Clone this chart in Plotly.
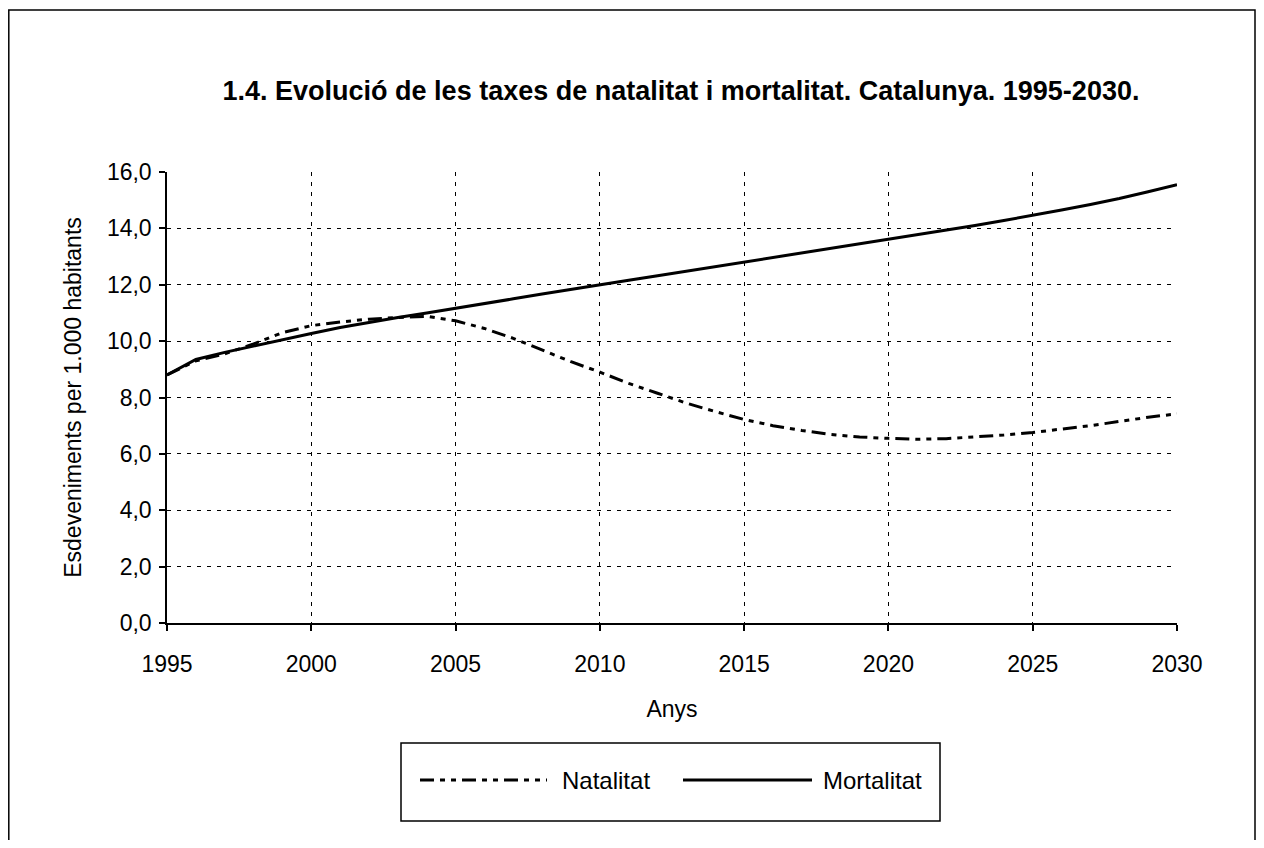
import plotly.graph_objects as go

years = list(range(1995, 2031))
natalitat = [8.8, 9.3, 9.55, 9.9, 10.3, 10.55, 10.68, 10.78, 10.84, 10.88,
             10.72, 10.45, 10.1, 9.68, 9.27, 8.9, 8.5, 8.15, 7.8, 7.5,
             7.22, 7.0, 6.83, 6.69, 6.6, 6.55, 6.52, 6.54, 6.6, 6.67,
             6.76, 6.87, 7.0, 7.15, 7.3, 7.42]
mortalitat = [8.8, 9.35, 9.6, 9.83, 10.05, 10.27, 10.48, 10.67, 10.84, 11.0,
              11.16, 11.33, 11.5, 11.67, 11.84, 12.0, 12.16, 12.32, 12.48, 12.64,
              12.8, 12.96, 13.12, 13.28, 13.44, 13.6, 13.76, 13.93, 14.1, 14.28,
              14.46, 14.65, 14.85, 15.06, 15.3, 15.55]
y_ticks = [0, 2, 4, 6, 8, 10, 12, 14, 16]
y_ticklabels = ["0,0", "2,0", "4,0", "6,0", "8,0", "10,0", "12,0", "14,0", "16,0"]
x_ticks = [1995, 2000, 2005, 2010, 2015, 2020, 2025, 2030]

title_text = "1.4. Evolució de les taxes de natalitat i mortalitat. Catalunya. 1995-2030."
nat_name = "Natalitat"
mor_name = "Mortalitat"

FONT = "Liberation Sans, Arial, Helvetica, sans-serif"
NAT_DASH = "14px,6px,5px,6px,5px,6px"
GRID_DASH = "4px,6px"

fig = go.Figure()
fig.add_trace(go.Scatter(x=years, y=natalitat, mode="lines", name=nat_name,
                         line=dict(color="black", width=3, dash=NAT_DASH),
                         showlegend=False))
fig.add_trace(go.Scatter(x=years, y=mortalitat, mode="lines", name=mor_name,
                         line=dict(color="black", width=3),
                         showlegend=False))

# figure is placed at page offset (8, 8) by the default body margin
OFF = 8
W, H = 1248, 832
L, R, T, B = 159, 79, 164, 217
pw, ph = W - L - R, H - T - B


def px(x):
    # page x -> paper x
    return (x - OFF - L) / pw


def py(y):
    # page y -> paper y
    return (H - B - (y - OFF)) / ph


shapes = [
    # outer frame
    dict(type="rect", xref="paper", yref="paper", x0=px(8.8), x1=px(1255),
         y0=py(880), y1=py(10), line=dict(color="black", width=1.5)),
    # legend box
    dict(type="rect", xref="paper", yref="paper", x0=px(401), x1=px(940),
         y0=py(821), y1=py(743), line=dict(color="black", width=1.5),
         fillcolor="white"),
    # legend samples
    dict(type="line", xref="paper", yref="paper", x0=px(420), x1=px(547),
         y0=py(780), y1=py(780), line=dict(color="black", width=3, dash=NAT_DASH)),
    dict(type="line", xref="paper", yref="paper", x0=px(683), x1=px(812),
         y0=py(780), y1=py(780), line=dict(color="black", width=3)),
]

annotations = [
    dict(text=nat_name, xref="paper", yref="paper", x=px(560), y=py(780),
         xanchor="left", yanchor="middle", showarrow=False,
         font=dict(family=FONT, size=24, color="black")),
    dict(text=mor_name, xref="paper", yref="paper", x=px(821), y=py(780),
         xanchor="left", yanchor="middle", showarrow=False,
         font=dict(family=FONT, size=24, color="black")),
]

fig.update_layout(
    width=W, height=H,
    margin=dict(l=L, r=R, t=T, b=B),
    paper_bgcolor="white", plot_bgcolor="white",
    font=dict(family=FONT, size=23, color="black"),
    title=dict(text="<b>" + title_text + "</b>", x=(681 - OFF) / W, xanchor="center",
               y=1 - (91 - OFF) / H, yanchor="middle",
               font=dict(family=FONT, size=27, color="black")),
    shapes=shapes,
    annotations=annotations,
    showlegend=False,
)

fig.update_xaxes(
    range=[1995, 2030], tickvals=x_ticks, ticktext=[str(v) for v in x_ticks],
    showline=True, linecolor="black", linewidth=1.5,
    ticks="outside", ticklen=6, tickcolor="black", tickwidth=1.5,
    showgrid=True, gridcolor="black", gridwidth=1, griddash=GRID_DASH,
    zeroline=False, ticklabelstandoff=14,
    title=dict(text="Anys", font=dict(family=FONT, size=23), standoff=25),
)
fig.update_yaxes(
    range=[0, 16], tickvals=y_ticks, ticktext=y_ticklabels,
    showline=True, linecolor="black", linewidth=1.5,
    ticks="outside", ticklen=6, tickcolor="black", tickwidth=1.5,
    showgrid=True, gridcolor="black", gridwidth=1, griddash=GRID_DASH,
    zeroline=False, ticklabelstandoff=3,
    title=dict(text="Esdeveniments per 1.000 habitants",
               font=dict(family=FONT, size=23), standoff=19),
)

fig.write_html("out.html")
